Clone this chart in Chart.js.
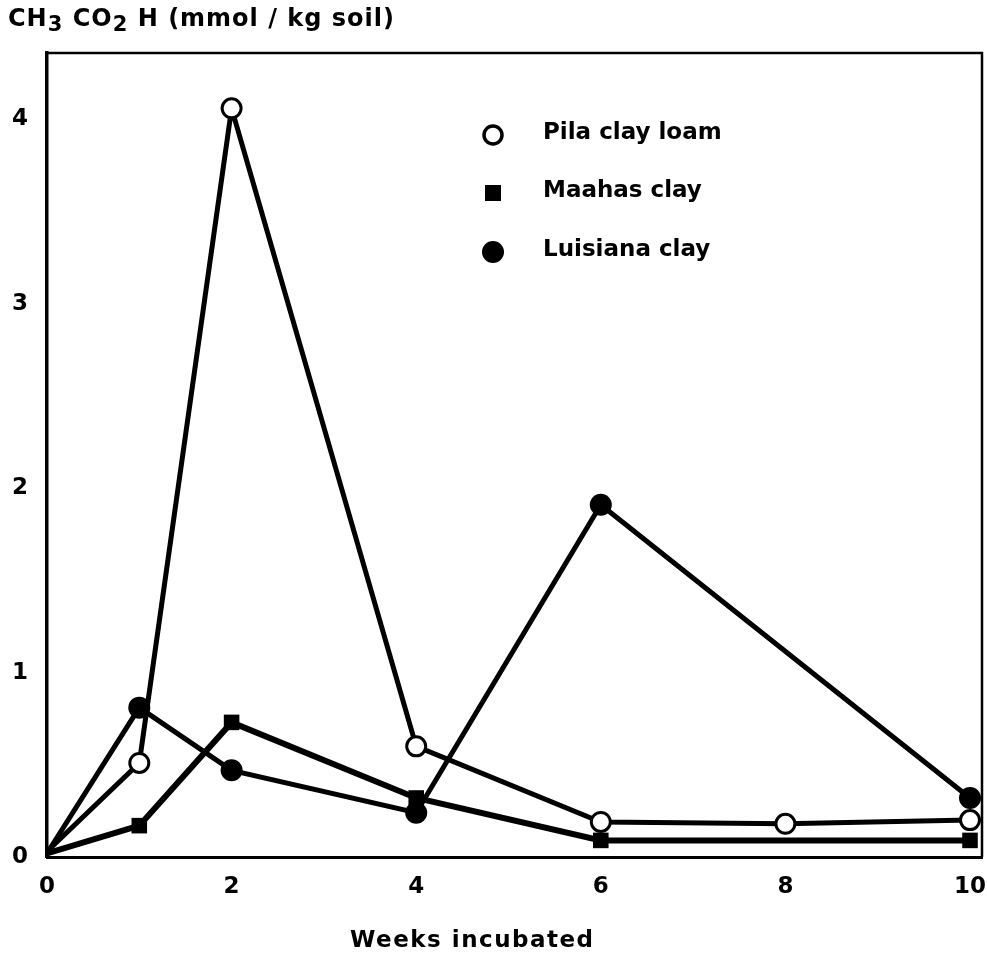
<!DOCTYPE html>
<html>
<head>
<meta charset="utf-8">
<script src="https://cdn.jsdelivr.net/npm/chart.js@4.4.0/dist/chart.umd.min.js"></script>
<style>
    html, body { margin: 0; padding: 0; background: #fff; }
    #wrap { position: relative; width: 987px; height: 957px; }
    .axis-title {
        position: absolute;
        font: bold 24px "DejaVu Sans", sans-serif; color: #000;
        letter-spacing: 1px; white-space: nowrap;
    }
    #yTitle { left: 8px; top: 4px; }
    #yTitle sub { font-size: 21px; vertical-align: -5px; }
    #xTitle { left: 350px; top: 926px; font-size: 23px; letter-spacing: 1.5px; }
</style>
</head>
<body>
<div id="wrap">
    <canvas id="chart" width="987" height="957"></canvas>
    <div id="yTitle" class="axis-title">CH<sub>3</sub> CO<sub>2</sub> H (mmol / kg soil)</div>
    <div id="xTitle" class="axis-title">Weeks incubated</div>
</div>
<script>
// Weeks incubated
const weeks = [0, 1, 2, 4, 6, 8, 10];
const weeksShort = [0, 1, 2, 4, 6, 10];

// CH3CO2H, mmol / kg soil
const pilaClayLoam = [0.03, 0.51, 4.06, 0.6, 0.19, 0.18, 0.2];
const maahasClay = [0.02, 0.17, 0.73, 0.32, 0.09, 0.09];
const luisianaClay = [0.02, 0.81, 0.47, 0.24, 1.91, 0.32];

const xTicks = [0, 2, 4, 6, 8, 10];
const yTicks = [0, 1, 2, 3, 4];

const FONT = '"DejaVu Sans", sans-serif';

function toPoints(xs, ys) {
    return ys.map((y, i) => ({ x: xs[i], y: y }));
}

// no marker at the origin, the lines just meet there
function radiusFrom(r) {
    return c => (c.dataIndex === 0 ? 0 : r);
}

// Legend drawn inside the plot area
const innerLegend = {
    id: 'innerLegend',
    afterDraw(chart) {
        const ctx = chart.ctx;
        const items = [
            { label: 'Pila clay loam', style: 'open', y: 135 },
            { label: 'Maahas clay', style: 'square', y: 193 },
            { label: 'Luisiana clay', style: 'dot', y: 252 }
        ];
        const mx = 493, tx = 543;
        ctx.save();
        items.forEach(item => {
            ctx.fillStyle = '#000';
            ctx.strokeStyle = '#000';
            if (item.style === 'open') {
                ctx.beginPath();
                ctx.arc(mx, item.y, 9, 0, Math.PI * 2);
                ctx.fillStyle = '#fff';
                ctx.fill();
                ctx.lineWidth = 3.5;
                ctx.stroke();
            } else if (item.style === 'square') {
                ctx.fillRect(mx - 8, item.y - 8, 16, 16);
            } else {
                ctx.beginPath();
                ctx.arc(mx, item.y, 11, 0, Math.PI * 2);
                ctx.fill();
            }
            ctx.fillStyle = '#000';
            ctx.font = 'bold 23px ' + FONT;
            ctx.textBaseline = 'middle';
            ctx.textAlign = 'left';
            ctx.fillText(item.label, tx, item.y - 2);
        });
        ctx.restore();
    }
};

// Top and right edges of the frame
const frame = {
    id: 'frame',
    beforeDatasetsDraw(chart) {
        const a = chart.chartArea;
        const ctx = chart.ctx;
        ctx.save();
        ctx.strokeStyle = '#000';
        ctx.lineWidth = 2.5;
        ctx.beginPath();
        ctx.moveTo(a.left, a.top);
        ctx.lineTo(a.right, a.top);
        ctx.lineTo(a.right, a.bottom);
        ctx.stroke();
        ctx.restore();
    }
};

const ctx = document.getElementById('chart');
new Chart(ctx, {
    type: 'line',
    data: {
        datasets: [
            {
                label: 'Pila clay loam',
                data: toPoints(weeks, pilaClayLoam),
                borderColor: '#000',
                borderWidth: 5,
                pointStyle: 'circle',
                pointRadius: radiusFrom(9.5),
                pointBorderWidth: 3,
                pointBackgroundColor: '#fff',
                pointBorderColor: '#000'
            },
            {
                label: 'Luisiana clay',
                data: toPoints(weeksShort, luisianaClay),
                borderColor: '#000',
                borderWidth: 5,
                pointStyle: 'circle',
                pointRadius: radiusFrom(11),
                pointBorderWidth: 0,
                pointBackgroundColor: '#000'
            },
            {
                label: 'Maahas clay',
                data: toPoints(weeksShort, maahasClay),
                borderColor: '#000',
                borderWidth: 6,
                pointStyle: 'rect',
                pointRadius: radiusFrom(11),
                pointBorderWidth: 0,
                pointBackgroundColor: '#000'
            }
        ]
    },
    options: {
        responsive: false,
        animation: false,
        layout: {
            autoPadding: false,
            padding: { left: 0, top: 53, right: 5, bottom: 0 }
        },
        plugins: {
            legend: { display: false },
            tooltip: { enabled: false }
        },
        elements: { line: { tension: 0 } },
        scales: {
            x: {
                type: 'linear',
                min: 0,
                max: 10.13,
                afterBuildTicks: scale => { scale.ticks = xTicks.map(v => ({ value: v })); },
                afterFit: scale => {
                    scale.height = 100;
                    scale.paddingLeft = 0;
                    scale.paddingRight = 0;
                },
                grid: { display: false, drawTicks: false },
                border: { color: '#000', width: 3 },
                ticks: {
                    color: '#000',
                    padding: 16,
                    font: { family: FONT, size: 23, weight: 'bold' },
                    maxRotation: 0
                }
            },
            y: {
                min: 0,
                max: 4.36,
                afterBuildTicks: scale => { scale.ticks = yTicks.map(v => ({ value: v })); },
                afterFit: scale => { scale.width = 47; },
                grid: { display: false, drawTicks: false },
                border: { color: '#000', width: 3.5 },
                ticks: {
                    color: '#000',
                    padding: 19,
                    font: { family: FONT, size: 23, weight: 'bold' }
                }
            }
        }
    },
    plugins: [frame, innerLegend]
});
</script>
</body>
</html>
